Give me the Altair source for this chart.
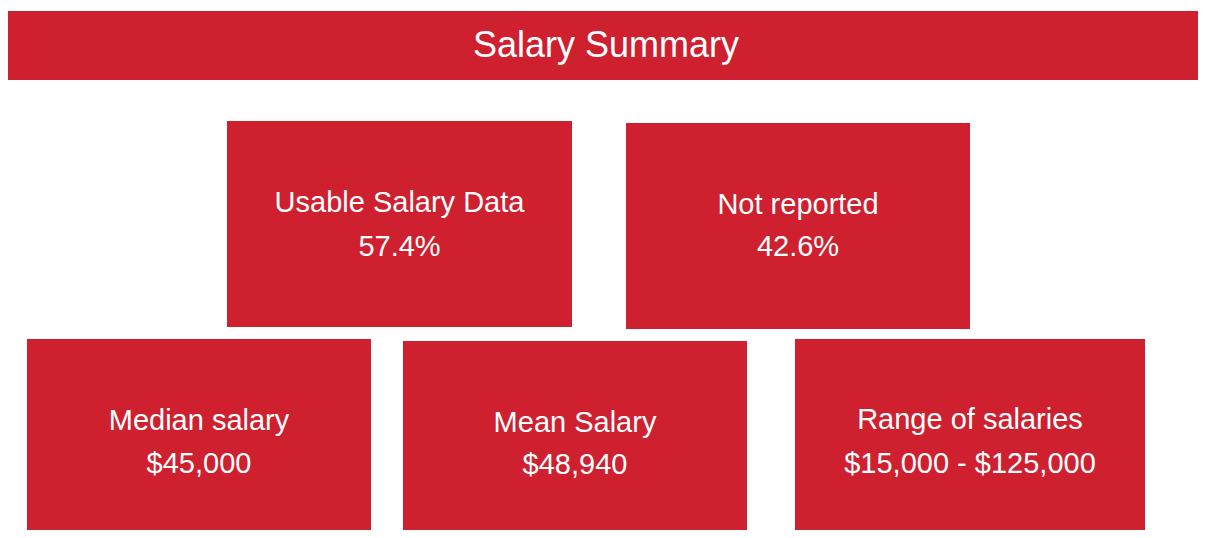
import altair as alt
import pandas as pd

# ---- content ----
title_text = ["Salary Summary"]
labels = ["Usable Salary Data", "Not reported", "Median salary", "Mean Salary", "Range of salaries"]
values = ["57.4%", "42.6%", "$45,000", "$48,940", "$15,000 - $125,000"]

# ---- layout (page-pixel coordinates) ----
box_x0 = [227, 626, 27, 403, 795]
box_x1 = [572, 970, 371, 747, 1145]
box_y0 = [121, 123, 339, 341, 339]
box_y1 = [327, 329, 545, 545, 545]
label_base = [212, 214, 430, 432, 429]
value_base = [256, 256, 473, 474, 473]

title_x0, title_x1, title_y0, title_y1 = [6], [1210], [11], [80]
title_base = [57]

RED = "#CE202F"
FONT = "Liberation Sans"

boxes = pd.DataFrame({
    "label": labels, "value": values,
    "x0": box_x0, "x1": box_x1, "y0": box_y0, "y1": box_y1,
    "ly": label_base, "vy": value_base,
})
boxes["cx"] = (boxes["x0"] + boxes["x1"]) / 2

title_df = pd.DataFrame({
    "t": title_text, "x0": title_x0, "x1": title_x1,
    "y0": title_y0, "y1": title_y1, "ty": title_base,
})
title_df["cx"] = (1206 + 6) / 2

xs = alt.Scale(domain=[8, 1198], range=[0, 1190], nice=False, zero=False)
ys = alt.Scale(domain=[8, 530], reverse=True, nice=False, zero=False)

def X(f):
    return alt.X(f, type="quantitative", scale=xs, axis=None)

def Y(f):
    return alt.Y(f, type="quantitative", scale=ys, axis=None)

title_bar = alt.Chart(title_df).mark_rect(color=RED).encode(
    x=X("x0"), x2="x1", y=Y("y0"), y2="y1"
)
title_txt = alt.Chart(title_df).mark_text(
    color="white", font=FONT, fontSize=36, baseline="alphabetic", align="center"
).encode(x=X("cx"), y=Y("ty"), text="t:N")

rects = alt.Chart(boxes).mark_rect(color=RED).encode(
    x=X("x0"), x2="x1", y=Y("y0"), y2="y1"
)
lab = alt.Chart(boxes).mark_text(
    color="white", font=FONT, fontSize=29, baseline="alphabetic", align="center"
).encode(x=X("cx"), y=Y("ly"), text="label:N")
val = alt.Chart(boxes).mark_text(
    color="white", font=FONT, fontSize=29, baseline="alphabetic", align="center"
).encode(x=X("cx"), y=Y("vy"), text="value:N")

chart = alt.layer(title_bar, title_txt, rects, lab, val).properties(
    width=1190, height=522, padding=0,
    autosize=alt.AutoSizeParams(type="none"),
).configure_view(stroke=None)

chart.save("out.html", embed_options={"renderer": "svg", "actions": False})
